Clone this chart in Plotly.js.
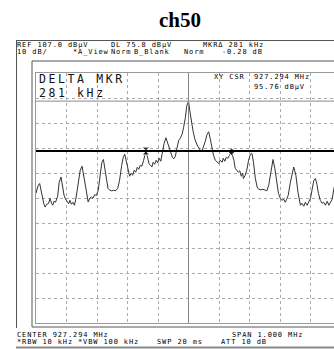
<!DOCTYPE html>
<html>
<head>
<meta charset="utf-8">
<script src="https://cdn.plot.ly/plotly-3.0.1.min.js"></script>
<style>
  html, body { margin: 0; padding: 0; overflow: hidden; background: #fff; }
  #chart { width: 341px; height: 349px; }
</style>
</head>
<body>
<div id="chart"></div>
<script>
// Analyzer settings
const centerMHz = 927.294;
const spanMHz = 1.0;
const refLevel = 107.0;      // dBµV, top of screen
const dbPerDiv = 10;
const displayLine = 75.8;    // dBµV
const rbwKHz = 10, vbwKHz = 100, sweepMs = 20, attDb = 10;

// XY cursor
const cursorOffsetKHz = 0;
const cursorLevel = 95.76;

// Delta marker pair (offset from centre in kHz, level in dBµV)
const markerOffsetsKHz = [-140, 141];
const markerLevels = [75.80, 75.52];

// Sweep trace: offset from centre frequency (kHz) and level (dBµV)
const freqOffsetKHz = [
  -500,-494,-488,-483,-478,-474,-470,-465,-459,-454,
  -449,-445,-441,-436,-429,-424,-418,-413,-408,-403,
  -398,-393,-389,-384,-379,-374,-369,-362,-355,-349,
  -343,-337,-329,-324,-318,-313,-308,-302,-296,-290,
  -284,-279,-274,-269,-264,-258,-252,-245,-239,-232,
  -226,-219,-214,-209,-203,-198,-193,-188,-183,-178,
  -173,-168,-163,-158,-153,-147,-143,-140,-135,-130,
  -125,-120,-116,-111,-106,-101,-96,-91,-86,-80,
  -74,-69,-63,-58,-53,-48,-43,-38,-32,-27,
  -21,-16,-10,-6,0,4,9,15,21,26,
  30,35,40,45,50,55,61,66,71,77,
  82,88,93,99,104,110,114,119,124,129,
  134,141,145,149,153,159,163,168,173,178,
  180,186,191,197,203,208,213,219,225,230,
  237,244,250,257,263,270,277,283,290,295,
  301,306,312,317,322,327,334,341,345,352,
  359,367,372,378,383,389,394,400,406,411,
  416,421,426,432,438,443,449,455,460,466,
  471,477,482,487,492,500
];
const levelDbuV = [
  58.9,61.7,62.8,60.1,56.1,54.5,53.4,54.5,54.8,56.8,
  54.9,54.1,55.7,55.3,57.7,63.3,65.4,62.1,58.1,56.5,
  55.7,54.7,56.1,54.5,55.3,54.1,56.9,62.8,68.1,69.7,
  66.1,61.3,55.4,56.9,57.4,56.9,58.3,58.1,60.1,66.1,
  71.3,72.4,68.9,64.1,60.9,60.1,59.9,60.1,59.9,60.9,
  64.1,70.1,73.3,74.5,71.3,68.1,65.7,66.9,66.1,68.1,
  67.3,69.3,68.5,70.1,69.7,72.1,74.5,75.8,73.7,70.9,
  70.1,69.4,71.3,70.5,72.1,71.1,72.9,71.7,74.9,78.9,
  81.1,79.3,76.9,75.3,73.3,72.7,73.7,76.9,80.1,80.9,
  82.5,85.3,89.3,93.7,95.76,92.1,87.7,83.7,80.5,78.5,
  77.7,76.9,75.7,76.1,77.7,79.7,82.5,83.5,80.9,76.8,
  74.1,72.1,71.4,70.8,72.1,71.3,72.9,71.7,73.3,72.9,
  74.0,75.52,73.7,72.1,68.9,68.1,67.3,67.9,65.7,66.9,
  64.8,66.1,68.1,72.1,74.5,74.8,71.3,64.9,61.4,60.5,
  60.3,60.5,60.1,59.9,62.1,68.1,72.4,68.9,62.9,58.8,
  56.9,56.1,56.5,55.3,56.5,58.1,63.3,68.1,69.4,66.1,
  59.3,54.1,54.9,53.7,55.3,54.1,55.7,56.9,60.9,64.1,
  64.8,62.5,58.9,56.1,54.9,55.3,54.1,55.7,54.1,55.3,
  56.5,60.9,63.3,64.1,60.9,57.7
];

const toMHz = k => centerMHz + k / 1000;
const startMHz = centerMHz - spanMHz / 2;
const stopMHz = centerMHz + spanMHz / 2;
const bottomLevel = refLevel - 10 * dbPerDiv;

// Layout geometry in pixels (plot area = graticule)
const W = 341, H = 349;
const M = { l: 36, r: 0, t: 73, b: 26 };
const PW = W - M.l - M.r, PH = H - M.t - M.b;
const X = px => (px - M.l) / PW;
const Y = py => (H - M.b - py) / PH;

const smallFont = { family: 'DejaVu Sans Mono', size: 7, color: '#000' };
const bigFont = { family: 'DejaVu Sans Mono', size: 11.5, color: '#111' };

// readout text: the screen font is wide, so the mono face gets extra tracking
function note(text, px, py, font, anchor, track) {
  return {
    text: '<span style="letter-spacing:' + track + 'px">' + text + '</span>',
    xref: 'paper', yref: 'paper', x: X(px), y: Y(py),
    xanchor: anchor || 'left', yanchor: 'middle', showarrow: false,
    font: font, borderpad: 0
  };
}
const small = (t, px, py, anchor) => note(t, px, py + 1.2, smallFont, anchor, 0.88);
const big = (t, px, py) => note(t, px, py, bigFont, 'left', 2.6);

const deltaKHz = markerOffsetsKHz[1] - markerOffsetsKHz[0];
const deltaDb = markerLevels[1] - markerLevels[0];

const annotations = [
  small('REF ' + refLevel.toFixed(1) + ' dBµV', 16.2, 43.5),
  small('DL ' + displayLine.toFixed(1) + ' dBµV', 110, 43.5),
  small('MKRΔ ' + deltaKHz + ' kHz', 201.7, 43.5),
  small(dbPerDiv + ' dB/', 16.2, 50.8),
  small('*A_View', 71.7, 50.8),
  small('Norm', 110, 50.8),
  small('B_Blank', 133, 50.8),
  small('Norm', 182.5, 50.8),
  small(deltaDb.toFixed(2) + ' dB', 264, 50.8, 'right'),

  big('DELTA MKR', 38.3, 79),
  big(deltaKHz + ' kHz', 38.3, 93),

  small('XY CSR', 213.3, 76),
  small(toMHz(cursorOffsetKHz).toFixed(3) + ' MHz', 252.7, 76),
  small(cursorLevel.toFixed(2) + ' dBµV', 252.7, 85.5),

  small('CENTER ' + centerMHz.toFixed(3) + ' MHz', 16.2, 333.8),
  small('SPAN ' + spanMHz.toFixed(3) + ' MHz', 231, 333.8),
  small('*RBW ' + rbwKHz + ' kHz', 16.2, 340.5),
  small('*VBW ' + vbwKHz + ' kHz', 77.3, 340.5),
  small('SWP ' + sweepMs + ' ms', 156, 340.5),
  small('ATT ' + attDb + ' dB', 220, 340.5)
];

const frame = '#555';
const shapes = [
  // instrument screen frame
  { type: 'line', xref: 'paper', yref: 'paper', x0: X(16), x1: X(360), y0: Y(40.5), y1: Y(40.5), line: { color: frame, width: 1 } },
  { type: 'line', xref: 'paper', yref: 'paper', x0: X(16.5), x1: X(16.5), y0: Y(40.5), y1: Y(328), line: { color: frame, width: 1 } },
  { type: 'line', xref: 'paper', yref: 'paper', x0: X(16), x1: X(360), y0: Y(347.5), y1: Y(347.5), line: { color: '#888', width: 2 } },
  { type: 'rect', xref: 'paper', yref: 'paper', x0: X(32), x1: X(360), y0: Y(61), y1: Y(327), line: { color: frame, width: 1 } },
  // XY cursor lines
  { type: 'line', xref: 'x', yref: 'paper', x0: toMHz(cursorOffsetKHz), x1: toMHz(cursorOffsetKHz), y0: 0, y1: 1, line: { color: '#888', width: 1 } },
  { type: 'line', xref: 'paper', yref: 'y', x0: 0, x1: 1, y0: cursorLevel, y1: cursorLevel, line: { color: '#888', width: 1 } },
  // display line
  { type: 'line', xref: 'paper', yref: 'y', x0: 0, x1: 1, y0: displayLine, y1: displayLine, line: { color: '#000', width: 2 } }
];

const traces = [
  {
    x: freqOffsetKHz.map(toMHz), y: levelDbuV,
    type: 'scatter', mode: 'lines',
    line: { color: '#333', width: 1 }, hoverinfo: 'skip'
  },
  {
    x: markerOffsetsKHz.map(toMHz), y: markerLevels,
    type: 'scatter', mode: 'markers',
    marker: { symbol: ['hourglass', 'diamond'], size: [8, 6], color: '#000' },
    hoverinfo: 'skip'
  }
];

const gridTicksX = [];
for (let i = 0; i <= 10; i++) gridTicksX.push(startMHz + i * spanMHz / 10);
const gridTicksY = [];
for (let i = 0; i <= 10; i++) gridTicksY.push(bottomLevel + i * dbPerDiv);

const layout = {
  width: W, height: H,
  margin: { l: M.l, r: M.r, t: M.t, b: M.b, autoexpand: false },
  paper_bgcolor: '#fff', plot_bgcolor: '#fff',
  showlegend: false,
  title: {
    text: '<b>ch50</b>',
    font: { family: 'Liberation Serif', size: 21, color: '#000' },
    xref: 'container', x: 180 / W, xanchor: 'center',
    yref: 'container', y: 1 - 20 / H, yanchor: 'middle'
  },
  xaxis: {
    range: [startMHz, stopMHz], tickmode: 'array', tickvals: gridTicksX,
    showticklabels: false, ticks: '', zeroline: false,
    showgrid: true, gridcolor: '#aaa', griddash: 'dot', gridwidth: 1,
    showline: true, linecolor: '#999', linewidth: 1, mirror: true
  },
  yaxis: {
    range: [bottomLevel, refLevel], tickmode: 'array', tickvals: gridTicksY,
    showticklabels: false, ticks: '', zeroline: false,
    showgrid: true, gridcolor: '#aaa', griddash: 'dot', gridwidth: 1,
    showline: true, linecolor: '#999', linewidth: 1, mirror: true
  },
  shapes: shapes,
  annotations: annotations
};

Plotly.newPlot('chart', traces, layout, { staticPlot: true, displayModeBar: false });
</script>
</body>
</html>
